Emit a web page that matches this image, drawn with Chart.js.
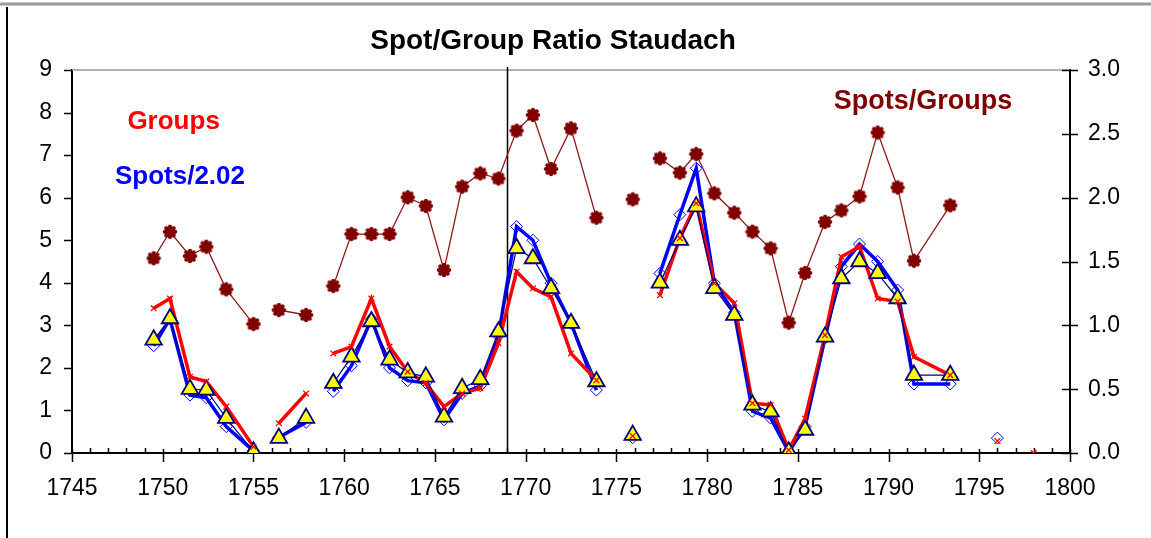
<!DOCTYPE html>
<html><head><meta charset="utf-8">
<script src="https://cdn.jsdelivr.net/npm/chart.js@4/dist/chart.umd.min.js"></script>
<style>html,body{margin:0;padding:0;background:#fff;}canvas{display:block;}</style>
</head><body>
<canvas id="c" width="1151" height="538"></canvas>
<script>
// ---- data ----
const years = [1749.5,1750.4,1751.5,1752.4,1753.5,1755.0,1756.4,1757.9,
  1759.4,1760.4,1761.5,1762.5,1763.5,1764.5,1765.5,1766.5,1767.5,1768.5,1769.5,1770.4,1771.4,1772.5,1773.9,
  1775.9,
  1777.4,1778.5,1779.4,1780.4,1781.5,1782.5,1783.5,1784.5,1785.4,1786.5,1787.4,1788.4,1789.4,1790.5,1791.4,1793.4,
  1796.0,1798.0];
const groups = [3.40,3.63,1.79,1.68,1.09,0.15,0.70,1.40,
  2.34,2.50,3.63,2.50,1.91,1.64,1.09,1.40,1.52,2.58,4.26,3.87,3.67,2.34,1.71,
  0.40,
  3.71,5.05,5.87,3.99,3.52,1.17,1.13,0.07,0.81,2.77,4.61,4.85,3.63,3.56,2.26,1.83,
  0.28,0.0];
const spotsScaled = [2.52,3.15,1.36,1.30,0.62,0.05,0.37,0.72,
  1.45,2.05,3.15,2.00,1.70,1.65,0.78,1.40,1.58,2.75,5.32,5.00,3.99,3.05,1.48,
  0.36,
  4.22,5.60,6.69,3.99,3.30,0.98,0.82,0.03,0.62,2.70,4.38,4.91,4.50,3.83,1.62,1.62,
  0.35,null];
const reference = [2.66,3.16,1.50,1.48,0.82,0.03,0.35,0.82,
  1.64,2.26,3.09,2.19,1.89,1.79,0.85,1.52,1.73,2.85,4.81,4.57,3.87,3.05,1.68,
  0.42,
  4.00,5.00,5.79,3.87,3.24,1.13,0.97,0.03,0.54,2.73,4.10,4.50,4.22,3.63,1.83,1.83,
  null,null];
const ratio = [1.525,1.733,1.543,1.616,1.282,1.010,1.120,1.081,
  1.308,1.715,1.715,1.715,2.003,1.935,1.433,2.086,2.19,2.15,2.525,2.648,2.225,2.543,1.843,
  1.987,
  2.308,2.196,2.342,2.034,1.882,1.734,1.603,1.021,1.41,1.81,1.90,2.01,2.51,2.08,1.506,1.94,
  null,null];
const breakAfter = [1755.0,1757.9,1773.9,1775.9,1793.4,1796.0];
const leftTicks = [0,1,2,3,4,5,6,7,8,9];
const rightTicks = [0,0.5,1,1.5,2,2.5,3];
const crossYear = 1769;
const titleText = 'Spot/Group Ratio Staudach';
const labelGroups = 'Groups';
const labelSpots = 'Spots/2.02';
const labelRatio = 'Spots/Groups';

// ---- helpers ----
const FONT = '"Liberation Sans", Arial, sans-serif';
const xy = arr => years.map((y, i) => ({x: y, y: arr[i]}));
const seg = {borderColor: ctx => breakAfter.includes(years[ctx.p0DataIndex]) ? 'rgba(0,0,0,0)' : undefined};

function flower() {
  const c = document.createElement('canvas');
  c.width = c.height = 16;
  const g = c.getContext('2d');
  g.fillStyle = '#800000';
  g.beginPath(); g.arc(8, 8, 5.3, 0, 2 * Math.PI); g.fill();
  for (let k = 0; k < 8; k++) {
    const a = k * Math.PI / 4;
    g.beginPath(); g.arc(8 + 5.2 * Math.cos(a), 8 + 5.2 * Math.sin(a), 2.1, 0, 2 * Math.PI); g.fill();
  }
  return c;
}
const flowerImg = flower();

const decor = {
  id: 'decor',
  beforeDatasetsDraw(chart) {
    const {ctx, chartArea: a, scales: {x, y, y2}} = chart;
    ctx.save();
    // outer frame
    ctx.strokeStyle = '#9a9a9a'; ctx.lineWidth = 3;
    ctx.beginPath(); ctx.moveTo(0, 4); ctx.lineTo(1151, 4); ctx.stroke();
    ctx.strokeStyle = '#000'; ctx.lineWidth = 2;
    ctx.beginPath(); ctx.moveTo(7, 7); ctx.lineTo(7, 538); ctx.stroke();
    // title
    ctx.fillStyle = '#000';
    ctx.font = 'bold 28px ' + FONT;
    ctx.textAlign = 'center'; ctx.textBaseline = 'middle';
    ctx.fillText(titleText, 553, 41);
    // top plot border
    ctx.strokeStyle = '#999'; ctx.lineWidth = 1.5;
    ctx.beginPath(); ctx.moveTo(a.left, a.top); ctx.lineTo(a.right, a.top); ctx.stroke();
    ctx.strokeStyle = '#000'; ctx.lineWidth = 1.5;
    // x ticks
    for (let yr = 1745; yr <= 1800; yr++) {
      const px = Math.round(x.getPixelForValue(yr)) + 0.5;
      ctx.beginPath();
      if (yr % 5 === 0) { ctx.moveTo(px, a.bottom - 4); ctx.lineTo(px, a.bottom + 9); }
      else { ctx.moveTo(px, a.bottom - 5); ctx.lineTo(px, a.bottom); }
      ctx.stroke();
    }
    // left y ticks (outside)
    leftTicks.forEach(v => {
      const py = Math.round(y.getPixelForValue(v)) + 0.5;
      ctx.beginPath(); ctx.moveTo(a.left - 8, py); ctx.lineTo(a.left, py); ctx.stroke();
    });
    // right y ticks (cross)
    rightTicks.forEach(v => {
      const py = Math.round(y2.getPixelForValue(v)) + 0.5;
      ctx.beginPath(); ctx.moveTo(a.right - 8, py); ctx.lineTo(a.right + 8, py); ctx.stroke();
    });
    // vertical crossing line
    const cx = Math.round(x.getPixelForValue(crossYear)) + 0.5;
    ctx.beginPath(); ctx.moveTo(cx, a.top - 3); ctx.lineTo(cx, a.bottom); ctx.stroke();
    ctx.restore();
  },
  afterDatasetsDraw(chart) {
    const {ctx, scales: {x, y}} = chart;
    ctx.save();
    ctx.font = 'bold 26px ' + FONT;
    ctx.textAlign = 'center'; ctx.textBaseline = 'middle';
    ctx.fillStyle = '#FF0000';
    ctx.fillText(labelGroups, x.getPixelForValue(1750.6), y.getPixelForValue(7.78));
    ctx.fillStyle = '#0000FF';
    ctx.fillText(labelSpots, x.getPixelForValue(1750.95), y.getPixelForValue(6.48));
    ctx.fillStyle = '#800000';
    ctx.font = 'bold 27px ' + FONT;
    ctx.fillText(labelRatio, x.getPixelForValue(1791.9), y.getPixelForValue(8.27));
    ctx.restore();
  }
};

new Chart(document.getElementById('c'), {
  type: 'line',
  data: {
    datasets: [
      {label: 'Groups x', data: xy(groups), showLine: false, pointStyle: 'crossRot', pointRadius: 4,
       pointBorderColor: '#FF0000', pointBorderWidth: 1.3, borderColor: '#FF0000'},
      {label: 'Reference', data: xy(reference), borderColor: '#000080', borderWidth: 1.2, pointStyle: 'triangle',
       pointRadius: 9.5, pointBackgroundColor: '#FFFF00', pointBorderColor: '#000080', pointBorderWidth: 1.8, segment: seg},
      {label: 'Groups', data: xy(groups), borderColor: '#FF0000', borderWidth: 3.5, pointRadius: 0, segment: seg},
      {label: 'Spots/2.02', data: xy(spotsScaled), borderColor: '#0000FF', borderWidth: 3.5, pointStyle: 'rectRot',
       pointRadius: 6, pointBackgroundColor: 'rgba(255,255,255,0)', pointBorderColor: '#0000FF', pointBorderWidth: 1, segment: seg},
      {label: 'Spots/Groups', yAxisID: 'y2', data: xy(ratio), borderColor: '#8B1a1a', borderWidth: 1.3,
       pointStyle: flowerImg, pointRadius: 8, segment: seg}
    ]
  },
  options: {
    responsive: false, animation: false, devicePixelRatio: 1,
    layout: {padding: {top: 70, left: 0, right: 0, bottom: 0}},
    plugins: {
      legend: {display: false}, tooltip: {enabled: false}, title: {display: false}
    },
    scales: {
      x: {type: 'linear', min: 1745, max: 1800,
          ticks: {stepSize: 5, autoSkip: false, maxRotation: 0, callback: v => String(v), color: '#000',
                  font: {family: FONT, size: 23}, padding: 22},
          grid: {display: false, drawTicks: false}, border: {display: true, color: '#000', width: 2},
          afterFit: s => { s.height = 85; }},
      y: {position: 'left', min: 0, max: 9,
          ticks: {stepSize: 1, color: '#000', font: {family: FONT, size: 23}, padding: 20},
          grid: {display: false, drawTicks: false}, border: {display: true, color: '#000', width: 2},
          afterFit: s => { s.width = 72; }},
      y2: {position: 'right', min: 0, max: 3,
          ticks: {stepSize: 0.5, callback: v => v.toFixed(1), color: '#000', font: {family: FONT, size: 23}, padding: 18},
          grid: {display: false, drawTicks: false}, border: {display: true, color: '#000', width: 2},
          afterFit: s => { s.width = 81; }}
    }
  },
  plugins: [decor]
});
</script>
</body></html>
